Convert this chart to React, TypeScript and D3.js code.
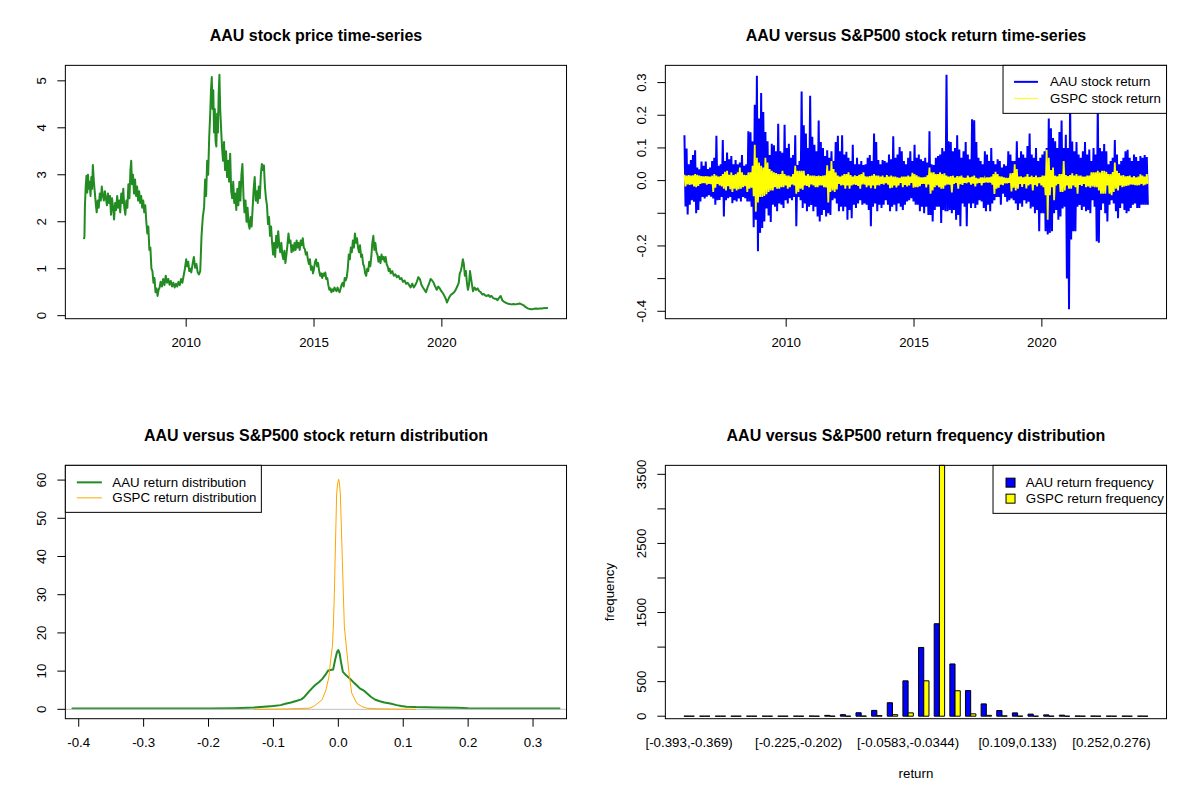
import React from "react";
import * as d3 from "d3";

const FONT = "'Liberation Sans', Arial, Helvetica, sans-serif";

// ---------- Top-left: AAU price ----------
const priceYears = [
  2006.0, 2006.02, 2006.04, 2006.07, 2006.1, 2006.13, 2006.16, 2006.19, 2006.22, 2006.26, 2006.29, 2006.32, 2006.35, 2006.39, 2006.43, 2006.47, 2006.5, 2006.54, 2006.58, 2006.62, 2006.66, 2006.7, 2006.74, 2006.78, 2006.82, 2006.86, 2006.9, 2006.94, 2006.98,
  2007.02, 2007.06, 2007.1, 2007.14, 2007.18, 2007.22, 2007.26, 2007.3, 2007.34, 2007.38, 2007.42, 2007.46, 2007.5, 2007.54, 2007.58, 2007.62, 2007.66, 2007.7, 2007.74, 2007.78, 2007.82, 2007.85, 2007.88, 2007.92, 2007.96,
  2008.0, 2008.04, 2008.08, 2008.12, 2008.16, 2008.2, 2008.24, 2008.28, 2008.32, 2008.36, 2008.4, 2008.44, 2008.48, 2008.52, 2008.56, 2008.6, 2008.64, 2008.68, 2008.72, 2008.76, 2008.8, 2008.84, 2008.88, 2008.92, 2008.96,
  2009.0, 2009.05, 2009.1, 2009.15, 2009.2, 2009.25, 2009.3, 2009.35, 2009.4, 2009.45, 2009.5, 2009.55, 2009.6, 2009.65, 2009.7, 2009.75, 2009.8, 2009.85, 2009.9, 2009.95,
  2010.0, 2010.04, 2010.08, 2010.12, 2010.16, 2010.2, 2010.25, 2010.3, 2010.35, 2010.4, 2010.45, 2010.5, 2010.55, 2010.6, 2010.65, 2010.7, 2010.74, 2010.78, 2010.82, 2010.86, 2010.9, 2010.94, 2010.97,
  2011.0, 2011.03, 2011.06, 2011.09, 2011.12, 2011.15, 2011.18, 2011.21, 2011.24, 2011.27, 2011.3, 2011.33, 2011.36, 2011.4, 2011.44, 2011.48, 2011.52, 2011.56, 2011.6, 2011.64, 2011.68, 2011.72, 2011.76, 2011.8, 2011.84, 2011.88, 2011.92, 2011.96,
  2012.0, 2012.04, 2012.08, 2012.12, 2012.16, 2012.2, 2012.24, 2012.28, 2012.32, 2012.36, 2012.4, 2012.44, 2012.48, 2012.52, 2012.56, 2012.6, 2012.64, 2012.68, 2012.72, 2012.76, 2012.8, 2012.84, 2012.88, 2012.92, 2012.96,
  2013.0, 2013.04, 2013.08, 2013.12, 2013.16, 2013.2, 2013.24, 2013.28, 2013.32, 2013.36, 2013.4, 2013.44, 2013.48, 2013.52, 2013.56, 2013.6, 2013.64, 2013.68, 2013.72, 2013.76, 2013.8, 2013.84, 2013.88, 2013.92, 2013.96,
  2014.0, 2014.04, 2014.08, 2014.12, 2014.16, 2014.2, 2014.24, 2014.28, 2014.32, 2014.36, 2014.4, 2014.44, 2014.48, 2014.52, 2014.56, 2014.6, 2014.64, 2014.68, 2014.72, 2014.76, 2014.8, 2014.84, 2014.88, 2014.92, 2014.96,
  2015.0, 2015.04, 2015.08, 2015.12, 2015.16, 2015.2, 2015.24, 2015.28, 2015.32, 2015.36, 2015.4, 2015.44, 2015.48, 2015.52, 2015.56, 2015.6, 2015.64, 2015.68, 2015.72, 2015.76, 2015.8, 2015.84, 2015.88, 2015.92, 2015.96,
  2016.0, 2016.04, 2016.08, 2016.12, 2016.16, 2016.2, 2016.24, 2016.28, 2016.32, 2016.36, 2016.4, 2016.44, 2016.48, 2016.52, 2016.56, 2016.6, 2016.64, 2016.68, 2016.72, 2016.76, 2016.8, 2016.84, 2016.88, 2016.92, 2016.96,
  2017.0, 2017.04, 2017.08, 2017.12, 2017.16, 2017.2, 2017.24, 2017.28, 2017.32, 2017.36, 2017.4, 2017.44, 2017.48, 2017.52, 2017.56, 2017.6, 2017.64, 2017.68, 2017.72, 2017.76, 2017.8, 2017.84, 2017.88, 2017.92, 2017.96,
  2018.0, 2018.06, 2018.12, 2018.18, 2018.24, 2018.3, 2018.36, 2018.42, 2018.48, 2018.54, 2018.6, 2018.66, 2018.72, 2018.78, 2018.84, 2018.9, 2018.96,
  2019.02, 2019.08, 2019.14, 2019.2, 2019.26, 2019.32, 2019.38, 2019.44, 2019.5, 2019.56, 2019.62, 2019.68, 2019.74, 2019.8, 2019.86, 2019.92, 2019.98,
  2020.04, 2020.1, 2020.16, 2020.2, 2020.24, 2020.3, 2020.36, 2020.42, 2020.48, 2020.54, 2020.6, 2020.66, 2020.7, 2020.74, 2020.78, 2020.82, 2020.86, 2020.9, 2020.94, 2020.98,
  2021.02, 2021.06, 2021.1, 2021.14, 2021.18, 2021.22, 2021.28, 2021.34, 2021.4, 2021.46, 2021.52, 2021.58, 2021.64, 2021.7, 2021.76, 2021.82, 2021.88, 2021.94,
  2022.0, 2022.06, 2022.12, 2022.18, 2022.24, 2022.3, 2022.36, 2022.42, 2022.48, 2022.56, 2022.64, 2022.72, 2022.8, 2022.88, 2022.96,
  2023.04, 2023.12, 2023.2, 2023.28, 2023.36, 2023.44, 2023.52, 2023.6, 2023.68, 2023.76, 2023.84, 2023.92, 2024.0, 2024.08, 2024.15,
];
const priceValues = [
  1.63, 1.68, 2.35, 2.75, 2.98, 2.62, 3.0, 2.7, 2.85, 2.55, 2.95, 2.7, 3.21, 2.85, 2.6, 2.35, 2.2, 2.45, 2.3, 2.6, 2.45, 2.75, 2.55, 2.45, 2.65, 2.5, 2.35, 2.6, 2.4,
  2.55, 2.15, 2.5, 2.3, 2.05, 2.4, 2.25, 2.55, 2.3, 2.45, 2.2, 2.6, 2.4, 2.7, 2.3, 2.15, 2.45, 2.3, 2.8, 2.5, 3.1, 3.3, 2.8, 3.0, 2.6,
  2.9, 2.55, 2.75, 2.45, 2.65, 2.4, 2.55, 2.3, 2.45, 2.2, 2.35, 2.0, 1.75, 1.9, 1.4, 1.45, 1.0, 0.95, 0.7, 0.8, 0.5, 0.58, 0.42, 0.55, 0.6,
  0.72, 0.62, 0.78, 0.65, 0.85, 0.7, 0.78, 0.66, 0.74, 0.62, 0.7, 0.6, 0.68, 0.62, 0.72, 0.65, 0.78, 0.7, 0.85, 1.0,
  1.2, 1.05, 1.15, 0.95, 1.0, 0.92, 1.1, 1.25, 1.02, 1.1, 0.92, 0.88, 0.95, 1.7, 2.1, 2.3, 2.9, 2.55, 3.3, 3.0, 3.8, 4.3, 4.8,
  5.08, 4.4, 4.8, 3.9, 4.4, 3.7, 3.6, 4.3, 3.9, 4.7, 5.13, 4.4, 4.05, 3.6, 3.3, 3.7, 3.1, 3.5, 2.95, 3.3, 2.85, 3.45, 2.65, 2.5, 2.85, 2.4, 2.6, 2.25,
  2.7, 2.35, 2.85, 2.45, 3.0, 3.23, 2.55, 2.2, 2.45, 2.0, 2.3, 1.95, 1.85, 2.1, 1.9, 2.3, 2.7, 2.95, 2.45, 2.65, 2.4, 2.75, 2.5, 3.0, 3.23,
  3.1, 3.2, 2.75, 2.5, 2.35, 1.95, 2.1, 1.7, 1.9, 1.55, 1.3, 1.55, 1.25, 1.7, 1.45, 1.8, 1.5, 1.35, 1.55, 1.3, 1.2, 1.38, 1.12, 1.3, 1.5,
  1.75, 1.55, 1.6, 1.35, 1.5, 1.38, 1.55, 1.4, 1.6, 1.45, 1.55, 1.4, 1.6, 1.5, 1.65, 1.45, 1.42, 1.3, 1.35, 1.2, 1.1, 1.2, 0.98, 1.05, 0.9,
  1.0, 1.15, 1.2, 1.05, 1.12, 0.95, 0.85, 0.9, 0.8, 0.9, 0.85, 0.92, 0.78, 0.8, 0.65, 0.55, 0.58, 0.5, 0.56, 0.52, 0.6, 0.55, 0.52, 0.6, 0.54,
  0.5, 0.58, 0.66, 0.7, 0.62, 0.8, 0.75, 0.82, 1.0, 1.3, 1.2, 1.45, 1.35, 1.6, 1.45, 1.75, 1.55, 1.65, 1.45, 1.35, 1.5, 1.25, 1.3, 1.1, 1.05,
  0.9, 0.85, 1.0, 0.95, 1.15, 1.05, 1.25, 1.55, 1.7, 1.4, 1.55, 1.35, 1.3, 1.15, 1.25, 1.12, 1.3, 1.2, 1.25, 1.15, 1.25, 1.1, 1.05, 0.95, 1.0,
  0.9, 0.95, 0.85, 0.88, 0.82, 0.85, 0.78, 0.8, 0.72, 0.75, 0.68, 0.7, 0.65, 0.6, 0.68, 0.6, 0.65,
  0.72, 0.82, 0.78, 0.66, 0.6, 0.55, 0.5, 0.6, 0.68, 0.78, 0.75, 0.7, 0.62, 0.55, 0.62, 0.58, 0.52,
  0.48, 0.42, 0.35, 0.28, 0.33, 0.4, 0.45, 0.47, 0.5, 0.55, 0.62, 0.7, 0.9, 0.95, 1.05, 1.2, 1.1, 0.85, 0.95, 0.7,
  0.55, 0.65, 0.95, 0.8, 0.65, 0.52, 0.6, 0.55, 0.58, 0.52, 0.5, 0.45, 0.46, 0.43, 0.42, 0.44, 0.4, 0.42,
  0.38, 0.36, 0.36, 0.33, 0.38, 0.42, 0.33, 0.3, 0.28, 0.26, 0.25, 0.24, 0.25, 0.24, 0.25,
  0.26, 0.24, 0.22, 0.18, 0.155, 0.14, 0.135, 0.145, 0.15, 0.148, 0.152, 0.15, 0.165, 0.16, 0.17,
];
const yearTicks = [2010, 2015, 2020];
const priceTicks = [0, 1, 2, 3, 4, 5];

// ---------- Top-right: monthly return extremes (Jan 2006 .. Feb 2024) ----------
const returnStartYear = 2006;
const aauReturnHigh = [
  0.139, 0.098, 0.05, 0.063, 0.078, 0.093, 0.04, 0.035, 0.058, 0.045, 0.058, 0.035,
  0.04, 0.06, 0.07, 0.137, 0.045, 0.05, 0.124, 0.06, 0.086, 0.065, 0.075, 0.05,
  0.063, 0.05, 0.055, 0.078, 0.045, 0.05, 0.151, 0.148, 0.12, 0.232, 0.321, 0.19,
  0.268, 0.21, 0.149, 0.12, 0.078, 0.113, 0.108, 0.09, 0.174, 0.09, 0.085, 0.171,
  0.1, 0.113, 0.07, 0.078, 0.139, 0.048, 0.06, 0.273, 0.169, 0.144, 0.1, 0.26,
  0.134, 0.11, 0.09, 0.184, 0.118, 0.1, 0.075, 0.093, 0.07, 0.09, 0.06, 0.118,
  0.137, 0.09, 0.139, 0.08, 0.088, 0.07, 0.06, 0.11, 0.05, 0.07, 0.05, 0.06,
  0.048, 0.05, 0.07, 0.078, 0.06, 0.144, 0.118, 0.063, 0.05, 0.063, 0.06, 0.055,
  0.08, 0.065, 0.136, 0.07, 0.08, 0.103, 0.09, 0.06, 0.05, 0.07, 0.09, 0.06,
  0.11, 0.07, 0.08, 0.065, 0.06, 0.07, 0.055, 0.151, 0.05, 0.048, 0.07, 0.075,
  0.08, 0.1, 0.09, 0.324, 0.12, 0.118, 0.09, 0.1, 0.139, 0.095, 0.07, 0.09,
  0.118, 0.08, 0.065, 0.188, 0.185, 0.118, 0.07, 0.06, 0.05, 0.09, 0.08, 0.06,
  0.1, 0.06, 0.05, 0.065, 0.06, 0.04, 0.05, 0.045, 0.09, 0.08, 0.06, 0.06,
  0.12, 0.07, 0.09, 0.08, 0.07, 0.106, 0.144, 0.08, 0.07, 0.1, 0.06, 0.07,
  0.08, 0.09, 0.1, 0.19, 0.16, 0.13, 0.12, 0.1, 0.149, 0.184, 0.1, 0.14,
  0.1, 0.26, 0.12, 0.09, 0.118, 0.08, 0.07, 0.09, 0.118, 0.08, 0.095, 0.06,
  0.1, 0.08, 0.24, 0.1, 0.09, 0.112, 0.09, 0.05, 0.06, 0.07, 0.124, 0.08,
  0.05, 0.06, 0.07, 0.09, 0.094, 0.07, 0.06, 0.08, 0.072, 0.06, 0.075, 0.07,
  0.078, 0.072,
];
const aauReturnLow = [
  -0.079, -0.104, -0.074, -0.06, -0.065, -0.1, -0.09, -0.064, -0.05, -0.055, -0.049, -0.045,
  -0.049, -0.055, -0.074, -0.06, -0.059, -0.05, -0.11, -0.06, -0.054, -0.05, -0.069, -0.06,
  -0.064, -0.055, -0.064, -0.05, -0.054, -0.064, -0.064, -0.08, -0.143, -0.12, -0.216, -0.16,
  -0.145, -0.125, -0.085, -0.107, -0.127, -0.074, -0.08, -0.094, -0.07, -0.074, -0.084, -0.06,
  -0.07, -0.054, -0.06, -0.05, -0.14, -0.05, -0.06, -0.084, -0.07, -0.094, -0.08, -0.075,
  -0.094, -0.08, -0.11, -0.125, -0.105, -0.09, -0.11, -0.1, -0.105, -0.06, -0.055, -0.07,
  -0.094, -0.08, -0.094, -0.08, -0.12, -0.09, -0.115, -0.074, -0.084, -0.07, -0.06, -0.074,
  -0.07, -0.074, -0.09, -0.14, -0.08, -0.07, -0.094, -0.074, -0.084, -0.074, -0.06, -0.074,
  -0.094, -0.08, -0.074, -0.094, -0.07, -0.08, -0.09, -0.074, -0.064, -0.06, -0.054, -0.064,
  -0.074, -0.074, -0.094, -0.08, -0.1, -0.08, -0.105, -0.105, -0.125, -0.09, -0.08, -0.08,
  -0.13, -0.09, -0.094, -0.094, -0.09, -0.1, -0.09, -0.12, -0.105, -0.14, -0.07, -0.08,
  -0.14, -0.07, -0.084, -0.07, -0.084, -0.074, -0.06, -0.064, -0.084, -0.094, -0.074, -0.094,
  -0.07, -0.06, -0.05, -0.05, -0.074, -0.04, -0.05, -0.065, -0.06, -0.055, -0.06, -0.07,
  -0.09, -0.07, -0.08, -0.06, -0.07, -0.065, -0.085, -0.08, -0.1, -0.09, -0.155, -0.1,
  -0.1, -0.155, -0.165, -0.16, -0.155, -0.1, -0.09, -0.12, -0.11, -0.085, -0.08, -0.3,
  -0.394, -0.18, -0.155, -0.155, -0.08, -0.075, -0.09, -0.08, -0.094, -0.09, -0.1, -0.06,
  -0.08, -0.186, -0.19, -0.09, -0.07, -0.1, -0.125, -0.074, -0.06, -0.07, -0.094, -0.115,
  -0.084, -0.07, -0.09, -0.1, -0.094, -0.084, -0.074, -0.07, -0.084, -0.084, -0.074, -0.074,
  -0.074, -0.074,
];
const gspcReturnHigh = [
  0.018, 0.015, 0.017, 0.015, 0.016, 0.02, 0.018, 0.015, 0.014, 0.013, 0.014, 0.013,
  0.012, 0.015, 0.02, 0.015, 0.012, 0.014, 0.02, 0.027, 0.03, 0.018, 0.025, 0.017,
  0.02, 0.025, 0.04, 0.025, 0.018, 0.017, 0.025, 0.025, 0.045, 0.11, 0.07, 0.055,
  0.045, 0.04, 0.07, 0.055, 0.035, 0.03, 0.025, 0.023, 0.02, 0.02, 0.03, 0.02,
  0.015, 0.015, 0.012, 0.02, 0.045, 0.03, 0.03, 0.03, 0.03, 0.015, 0.02, 0.015,
  0.015, 0.015, 0.014, 0.015, 0.014, 0.015, 0.016, 0.047, 0.03, 0.06, 0.035, 0.025,
  0.015, 0.012, 0.015, 0.02, 0.02, 0.025, 0.017, 0.012, 0.016, 0.014, 0.018, 0.02,
  0.025, 0.013, 0.012, 0.014, 0.015, 0.02, 0.015, 0.015, 0.012, 0.015, 0.01, 0.017,
  0.012, 0.015, 0.012, 0.012, 0.01, 0.008, 0.012, 0.012, 0.012, 0.015, 0.012, 0.024,
  0.02, 0.016, 0.012, 0.01, 0.01, 0.011, 0.016, 0.04, 0.025, 0.025, 0.02, 0.02,
  0.025, 0.02, 0.022, 0.015, 0.012, 0.014, 0.015, 0.009, 0.014, 0.013, 0.015, 0.009,
  0.008, 0.015, 0.01, 0.012, 0.015, 0.008, 0.006, 0.01, 0.01, 0.006, 0.01, 0.01,
  0.012, 0.02, 0.027, 0.02, 0.013, 0.012, 0.01, 0.008, 0.008, 0.022, 0.023, 0.05,
  0.035, 0.012, 0.013, 0.01, 0.012, 0.02, 0.011, 0.015, 0.011, 0.015, 0.01, 0.011,
  0.015, 0.015, 0.094, 0.07, 0.032, 0.04, 0.015, 0.013, 0.02, 0.02, 0.06, 0.017,
  0.014, 0.017, 0.022, 0.015, 0.02, 0.015, 0.015, 0.012, 0.012, 0.015, 0.015, 0.025,
  0.025, 0.025, 0.03, 0.025, 0.03, 0.03, 0.027, 0.02, 0.02, 0.026, 0.055, 0.03,
  0.023, 0.015, 0.017, 0.013, 0.014, 0.015, 0.01, 0.014, 0.01, 0.012, 0.019, 0.015,
  0.012, 0.02,
];
const gspcReturnLow = [
  -0.018, -0.012, -0.013, -0.012, -0.018, -0.02, -0.016, -0.01, -0.008, -0.008, -0.012, -0.01,
  -0.011, -0.035, -0.022, -0.01, -0.015, -0.018, -0.025, -0.03, -0.017, -0.026, -0.035, -0.025,
  -0.03, -0.026, -0.025, -0.02, -0.017, -0.035, -0.025, -0.022, -0.048, -0.095, -0.067, -0.05,
  -0.05, -0.047, -0.042, -0.035, -0.03, -0.03, -0.02, -0.025, -0.025, -0.02, -0.02, -0.015,
  -0.025, -0.02, -0.012, -0.015, -0.04, -0.035, -0.025, -0.028, -0.015, -0.016, -0.02, -0.012,
  -0.015, -0.02, -0.02, -0.015, -0.015, -0.02, -0.021, -0.067, -0.035, -0.03, -0.035, -0.027,
  -0.01, -0.015, -0.014, -0.025, -0.015, -0.025, -0.015, -0.012, -0.013, -0.016, -0.025, -0.012,
  -0.012, -0.02, -0.015, -0.023, -0.015, -0.025, -0.014, -0.015, -0.01, -0.012, -0.008, -0.012,
  -0.023, -0.022, -0.015, -0.021, -0.015, -0.007, -0.02, -0.013, -0.018, -0.015, -0.007, -0.022,
  -0.02, -0.02, -0.017, -0.01, -0.01, -0.021, -0.012, -0.04, -0.03, -0.02, -0.015, -0.02,
  -0.025, -0.025, -0.015, -0.012, -0.012, -0.036, -0.01, -0.007, -0.025, -0.011, -0.013, -0.007,
  -0.008, -0.005, -0.012, -0.009, -0.018, -0.008, -0.007, -0.015, -0.007, -0.005, -0.006, -0.006,
  -0.012, -0.041, -0.025, -0.022, -0.012, -0.014, -0.008, -0.008, -0.007, -0.033, -0.022, -0.03,
  -0.025, -0.01, -0.019, -0.01, -0.024, -0.015, -0.011, -0.03, -0.013, -0.018, -0.008, -0.015,
  -0.02, -0.045, -0.12, -0.045, -0.02, -0.06, -0.015, -0.01, -0.035, -0.035, -0.03, -0.015,
  -0.025, -0.025, -0.015, -0.02, -0.04, -0.013, -0.016, -0.01, -0.02, -0.018, -0.022, -0.018,
  -0.02, -0.02, -0.03, -0.04, -0.04, -0.04, -0.015, -0.04, -0.045, -0.035, -0.025, -0.03,
  -0.015, -0.02, -0.018, -0.016, -0.015, -0.012, -0.012, -0.014, -0.015, -0.014, -0.01, -0.015,
  -0.012, -0.01,
];
const returnTicks = [-0.4, -0.3, -0.2, -0.1, 0.0, 0.1, 0.2, 0.3];
const returnTickLabels = ["-0.4", "", "-0.2", "", "0.0", "0.1", "0.2", "0.3"];

// ---------- Bottom-left: densities ----------
const aauDensityX = [-0.411, -0.3, -0.2, -0.16, -0.13, -0.115, -0.1, -0.089, -0.08, -0.073, -0.065, -0.057, -0.052, -0.046, -0.04, -0.036, -0.03, -0.025, -0.02, -0.016, -0.012, -0.008, -0.005, -0.002, 0, 0.002, 0.004, 0.007, 0.012, 0.018, 0.025, 0.033, 0.04, 0.044, 0.05, 0.057, 0.064, 0.071, 0.08, 0.09, 0.097, 0.105, 0.119, 0.15, 0.183, 0.2, 0.25, 0.342];
const aauDensityY = [0.22, 0.22, 0.24, 0.3, 0.45, 0.7, 0.85, 1.1, 1.5, 1.8, 2.2, 2.6, 3.3, 4.5, 5.6, 6.3, 7.1, 7.9, 9.0, 10.1, 10.3, 10.4, 12.9, 15.0, 15.5, 14.6, 12.5, 9.8, 8.9, 8.0, 6.8, 5.5, 4.8, 4.2, 3.3, 2.5, 2.1, 1.8, 1.5, 1.1, 0.87, 0.7, 0.6, 0.5, 0.43, 0.3, 0.24, 0.22];
const gspcDensityX = [-0.13, -0.1, -0.08, -0.06, -0.045, -0.038, -0.025, -0.019, -0.0144, -0.0118, -0.0092, -0.0077, -0.0061, -0.005, -0.0026, -0.001, 0.0005, 0.0015, 0.0031, 0.0062, 0.0077, 0.0093, 0.0144, 0.017, 0.0206, 0.0283, 0.036, 0.044, 0.06, 0.08, 0.1, 0.12];
const gspcDensityY = [0, 0.05, 0.1, 0.2, 0.3, 0.74, 2.5, 5.1, 8.6, 12.9, 16.4, 21.6, 30.3, 39.0, 56.4, 59.2, 60.2, 59.6, 56.4, 39.0, 30.3, 21.6, 12.9, 8.6, 4.3, 1.6, 0.74, 0.3, 0.15, 0.08, 0.03, 0];
const densityXLim = [-0.392, 0.323];
const densityYLim = [0, 61.4];
const densityXTicks = [-0.4, -0.3, -0.2, -0.1, 0.0, 0.1, 0.2, 0.3];
const densityXTickLabels = ["-0.4", "-0.3", "-0.2", "-0.1", "0.0", "0.1", "0.2", "0.3"];
const densityYTicks = [0, 10, 20, 30, 40, 50, 60];

// ---------- Bottom-right: frequency histogram ----------
const binLabels = [
  "[-0.393,-0.369)", "[-0.369,-0.345)", "[-0.345,-0.321)", "[-0.321,-0.297)", "[-0.297,-0.273)",
  "[-0.273,-0.249)", "[-0.249,-0.225)", "[-0.225,-0.202)", "[-0.202,-0.178)", "[-0.178,-0.154)",
  "[-0.154,-0.13)", "[-0.13,-0.106)", "[-0.106,-0.0822)", "[-0.0822,-0.0583)", "[-0.0583,-0.0344)",
  "[-0.0344,-0.0105)", "[-0.0105,0.0134)", "[0.0134,0.0373)", "[0.0373,0.0612)", "[0.0612,0.0851)",
  "[0.0851,0.109)", "[0.109,0.133)", "[0.133,0.157)", "[0.157,0.181)", "[0.181,0.205)",
  "[0.205,0.228)", "[0.228,0.252)", "[0.252,0.276)", "[0.276,0.3)", "[0.3,0.324]",
];
const aauFreq = [1, 0, 0, 0, 0, 0, 0, 1, 2, 12, 22, 50, 84, 195, 512, 995, 1338, 756, 371, 178, 82, 48, 30, 19, 15, 3, 2, 1, 1, 1];
const gspcFreq = [0, 0, 0, 0, 0, 0, 0, 0, 0, 0, 0, 2, 8, 22, 48, 512, 3630, 368, 34, 12, 5, 1, 0, 0, 0, 0, 0, 0, 0, 0];
const shownBinLabels = [0, 7, 14, 21, 27];
const freqTicks = [0, 500, 1000, 1500, 2000, 2500, 3000, 3500];
const freqTickLabels = ["0", "500", "", "1500", "", "2500", "", "3500"];

// ---------- layout (R par(mfrow=c(2,2)) margins) ----------
const LINE = 15.94;
const TICK = 8;
const FS = 13.3;
type R = { x0: number; x1: number; y0: number; y1: number };
const panel = (col: number, row: number): R => ({
  x0: col * 600 + 4.1 * LINE,
  x1: col * 600 + 600 - 2.1 * LINE,
  y0: row * 400 + 4.1 * LINE,
  y1: row * 400 + 400 - 5.1 * LINE,
});
const ext = (a: number, b: number): [number, number] => [a - 0.04 * (b - a), b + 0.04 * (b - a)];

function Frame({ p, title }: { p: R; title: string }) {
  return (
    <g>
      <rect x={p.x0} y={p.y0} width={p.x1 - p.x0} height={p.y1 - p.y0} fill="none" stroke="#000" strokeWidth={1} />
      <text x={(p.x0 + p.x1) / 2} y={p.y0 - 24.5} textAnchor="middle" fontWeight="bold" fontSize={16}>
        {title}
      </text>
    </g>
  );
}

function XAxis({ p, scale, ticks, labels }: { p: R; scale: any; ticks: number[]; labels: string[] }) {
  return (
    <g>
      {ticks.map((t, i) => (
        <g key={i}>
          <line x1={scale(t)} x2={scale(t)} y1={p.y1} y2={p.y1 + TICK} stroke="#000" />
          <text x={scale(t)} y={p.y1 + 28} textAnchor="middle" fontSize={FS}>
            {labels[i]}
          </text>
        </g>
      ))}
    </g>
  );
}

function YAxis({ p, scale, ticks, labels }: { p: R; scale: any; ticks: number[]; labels: string[] }) {
  return (
    <g>
      {ticks.map((t, i) => (
        <g key={i}>
          <line x1={p.x0 - TICK} x2={p.x0} y1={scale(t)} y2={scale(t)} stroke="#000" />
          {labels[i] !== "" && (
            <text transform={`translate(${p.x0 - 19.5},${scale(t)}) rotate(-90)`} textAnchor="middle" fontSize={FS}>
              {labels[i]}
            </text>
          )}
        </g>
      ))}
    </g>
  );
}

function ClipDef({ id, p }: { id: string; p: R }) {
  return (
    <clipPath id={id}>
      <rect x={p.x0} y={p.y0} width={p.x1 - p.x0} height={p.y1 - p.y0} />
    </clipPath>
  );
}

function PricePanel() {
  const p = panel(0, 0);
  const x = d3.scaleLinear().domain(ext(d3.min(priceYears)!, d3.max(priceYears)!)).range([p.x0, p.x1]);
  const y = d3.scaleLinear().domain(ext(d3.min(priceValues)!, d3.max(priceValues)!)).range([p.y1, p.y0]);
  const line = d3.line<number>().x((_, i) => x(priceYears[i])).y((v) => y(v));
  return (
    <g>
      <defs><ClipDef id="clipTL" p={p} /></defs>
      <path d={line(priceValues)!} fill="none" stroke="#228B22" strokeWidth={2} strokeLinejoin="round" clipPath="url(#clipTL)" />
      <Frame p={p} title="AAU stock price time-series" />
      <XAxis p={p} scale={x} ticks={yearTicks} labels={yearTicks.map(String)} />
      <YAxis p={p} scale={y} ticks={priceTicks} labels={priceTicks.map(String)} />
    </g>
  );
}

function zigzag(high: number[], low: number[]) {
  const pts: [number, number][] = [];
  high.forEach((h, m) => {
    pts.push([returnStartYear + (m + 0.25) / 12, h]);
    pts.push([returnStartYear + (m + 0.75) / 12, low[m]]);
  });
  return pts;
}

function ReturnPanel() {
  const p = panel(1, 0);
  const x = d3.scaleLinear().domain(ext(d3.min(priceYears)!, d3.max(priceYears)!)).range([p.x0, p.x1]);
  const y = d3.scaleLinear().domain(ext(d3.min(aauReturnLow)!, d3.max(aauReturnHigh)!)).range([p.y1, p.y0]);
  const line = d3.line<[number, number]>().x((d) => x(d[0])).y((d) => y(d[1]));
  const lx = p.x1 - 163.5;
  return (
    <g>
      <defs><ClipDef id="clipTR" p={p} /></defs>
      <g clipPath="url(#clipTR)">
        <path d={line(zigzag(aauReturnHigh, aauReturnLow))!} fill="none" stroke="#0000FF" strokeWidth={2} />
        <path d={line(zigzag(gspcReturnHigh, gspcReturnLow))!} fill="none" stroke="#FFFF00" strokeWidth={1.8} />
      </g>
      <Frame p={p} title="AAU versus S&P500 stock return time-series" />
      <XAxis p={p} scale={x} ticks={yearTicks} labels={yearTicks.map(String)} />
      <YAxis p={p} scale={y} ticks={returnTicks} labels={returnTickLabels} />
      <g fontSize={FS}>
        <rect x={lx} y={p.y0} width={p.x1 - lx} height={48} fill="#fff" stroke="#000" />
        <line x1={p.x1 - 152.5} x2={p.x1 - 128.5} y1={p.y0 + 16.5} y2={p.y0 + 16.5} stroke="#0000FF" strokeWidth={2} />
        <text x={p.x1 - 116.5} y={p.y0 + 21} >AAU stock return</text>
        <line x1={p.x1 - 152.5} x2={p.x1 - 128.5} y1={p.y0 + 33} y2={p.y0 + 33} stroke="#FFFF00" strokeWidth={1} />
        <text x={p.x1 - 116.5} y={p.y0 + 37.5}>GSPC stock return</text>
      </g>
    </g>
  );
}

function DensityPanel() {
  const p = panel(0, 1);
  const x = d3.scaleLinear().domain(ext(densityXLim[0], densityXLim[1])).range([p.x0, p.x1]);
  const y = d3.scaleLinear().domain(ext(densityYLim[0], densityYLim[1])).range([p.y1, p.y0]);
  const mk = (xs: number[], ys: number[]) =>
    d3.line<number>().x((_, i) => x(xs[i])).y((v) => y(v))(ys)!;
  return (
    <g>
      <defs><ClipDef id="clipBL" p={p} /></defs>
      <g clipPath="url(#clipBL)">
        <path d={mk(aauDensityX, aauDensityY)} fill="none" stroke="#228B22" strokeWidth={2} strokeLinejoin="round" />
        <line x1={p.x0} x2={p.x1} y1={y(0)} y2={y(0)} stroke="#BEBEBE" strokeWidth={1} />
        <path d={mk(gspcDensityX, gspcDensityY)} fill="none" stroke="#FFA500" strokeWidth={1} />
      </g>
      <Frame p={p} title="AAU versus S&P500 stock return distribution" />
      <XAxis p={p} scale={x} ticks={densityXTicks} labels={densityXTickLabels} />
      <YAxis p={p} scale={y} ticks={densityYTicks} labels={densityYTicks.map(String)} />
      <g fontSize={FS}>
        <rect x={p.x0} y={p.y0} width={196} height={47} fill="#fff" stroke="#000" />
        <line x1={p.x0 + 11.5} x2={p.x0 + 36.5} y1={p.y0 + 17} y2={p.y0 + 17} stroke="#228B22" strokeWidth={2} />
        <text x={p.x0 + 47} y={p.y0 + 21.5}>AAU return distribution</text>
        <line x1={p.x0 + 11.5} x2={p.x0 + 36.5} y1={p.y0 + 32.5} y2={p.y0 + 32.5} stroke="#FFA500" strokeWidth={1} />
        <text x={p.x0 + 47} y={p.y0 + 37}>GSPC return distribution</text>
      </g>
    </g>
  );
}

function FreqPanel() {
  const p = panel(1, 1);
  const n = binLabels.length;
  const x = d3.scaleLinear().domain(ext(1, 3 * n)).range([p.x0, p.x1]);
  const H = d3.max([...aauFreq, ...gspcFreq])!;
  const y = d3.scaleLinear().domain([-0.01 * H, H]).range([p.y1, p.y0]);
  const bar = (u0: number, u1: number, v: number) =>
    `M${x(u0)},${y(0)}H${x(u1)}V${y(v)}H${x(u0)}Z`;
  const lx = p.x1 - 173.5;
  return (
    <g>
      {binLabels.map((_, i) => (
        <g key={i}>
          <path d={bar(3 * i + 1, 3 * i + 2, aauFreq[i])} fill="#0000FF" stroke="#000" strokeWidth={1} />
          <path d={bar(3 * i + 2, 3 * i + 3, gspcFreq[i])} fill="#FFFF00" stroke="#000" strokeWidth={1} />
        </g>
      ))}
      <Frame p={p} title="AAU versus S&P500 return frequency distribution" />
      {shownBinLabels.map((i) => (
        <text key={i} x={x(3 * i + 2)} y={p.y1 + 28} textAnchor="middle" fontSize={FS}>
          {binLabels[i]}
        </text>
      ))}
      <YAxis p={p} scale={y} ticks={freqTicks} labels={freqTickLabels} />
      <text x={(p.x0 + p.x1) / 2} y={p.y1 + 59.3} textAnchor="middle" fontSize={FS}>return</text>
      <text transform={`translate(${p.x0 - 51},${(p.y0 + p.y1) / 2}) rotate(-90)`} textAnchor="middle" fontSize={FS}>
        frequency
      </text>
      <g fontSize={FS}>
        <rect x={lx} y={p.y0} width={p.x1 - lx} height={48} fill="#fff" stroke="#000" />
        <rect x={p.x1 - 160.5} y={p.y0 + 12.8} width={9} height={9} fill="#0000FF" stroke="#000" />
        <text x={p.x1 - 140.7} y={p.y0 + 21.8}>AAU return frequency</text>
        <rect x={p.x1 - 160.5} y={p.y0 + 28.8} width={9} height={9} fill="#FFFF00" stroke="#000" />
        <text x={p.x1 - 140.7} y={p.y0 + 37.8}>GSPC return frequency</text>
      </g>
    </g>
  );
}

export default function App() {
  return (
    <svg
      width={1200}
      height={800}
      style={{ position: "absolute", left: 0, top: 0, background: "#fff" }}
      fontFamily={FONT}
    >
      <rect width={1200} height={800} fill="#fff" />
      <PricePanel />
      <ReturnPanel />
      <DensityPanel />
      <FreqPanel />
    </svg>
  );
}
